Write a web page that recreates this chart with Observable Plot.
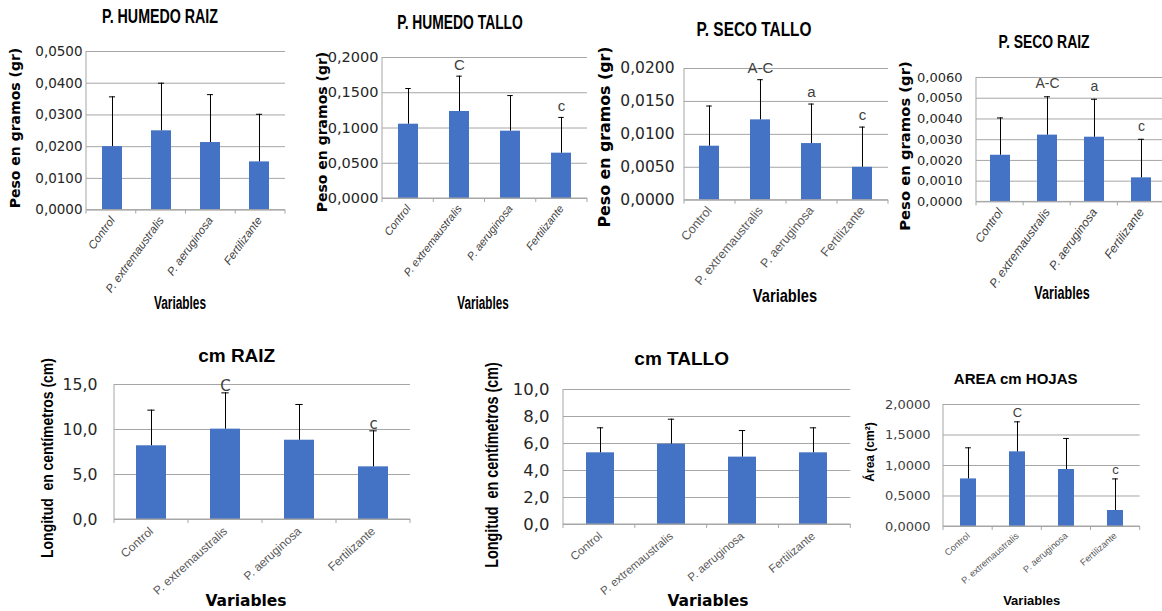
<!DOCTYPE html>
<html>
<head>
<meta charset="utf-8">
<script src="https://cdn.jsdelivr.net/npm/d3@7"></script>
<script src="https://cdn.jsdelivr.net/npm/@observablehq/plot@0.6"></script>
<style>
  html, body { margin: 0; padding: 0; background: #fff; }
  #wrap { position: relative; width: 1162px; height: 611px; overflow: hidden; background: #fff; }
  .lbl { position: absolute; white-space: pre; line-height: 1; color: #000; font-weight: bold; }
</style>
</head>
<body>
<div id="wrap"></div>
<script>
// ---------------- DATA ----------------
const categories = ["Control", "P. extremaustralis", "P. aeruginosa", "Fertilizante"];

// P. HUMEDO RAIZ (g)
const humedoRaizMean = [0.0200, 0.0250, 0.0213, 0.0152];
const humedoRaizSD   = [0.0157, 0.0150, 0.0151, 0.0150];
const humedoRaizTicks = [0, 0.01, 0.02, 0.03, 0.04, 0.05];
const humedoRaizLetters = ["", "", "", ""];

// P. HUMEDO TALLO (g)
const humedoTalloMean = [0.1054, 0.1234, 0.0955, 0.0643];
const humedoTalloSD   = [0.0506, 0.0501, 0.0505, 0.0507];
const humedoTalloTicks = [0, 0.05, 0.10, 0.15, 0.20];
const humedoTalloLetters = ["", "C", "", "c"];

// P. SECO TALLO (g)
const secoTalloMean = [0.0082, 0.0122, 0.0086, 0.0050];
const secoTalloSD   = [0.0061, 0.0061, 0.0060, 0.0061];
const secoTalloTicks = [0, 0.005, 0.010, 0.015, 0.020];
const secoTalloLetters = ["", "A-C", "a", "c"];

// P. SECO RAIZ (g)
const secoRaizMean = [0.00225, 0.00322, 0.00312, 0.00116];
const secoRaizSD   = [0.00180, 0.00185, 0.00183, 0.00186];
const secoRaizTicks = [0, 0.001, 0.002, 0.003, 0.004, 0.005, 0.006];
const secoRaizLetters = ["", "A-C", "a", "c"];

// cm RAIZ
const cmRaizMean = [8.19, 10.04, 8.81, 5.85];
const cmRaizSD   = [3.96, 4.03, 3.97, 4.00];
const cmRaizTicks = [0, 5, 10, 15];
const cmRaizLetters = ["", "C", "", "c"];

// cm TALLO
const cmTalloMean = [5.31, 5.95, 4.99, 5.31];
const cmTalloSD   = [1.85, 1.85, 1.97, 1.85];
const cmTalloTicks = [0, 2, 4, 6, 8, 10];
const cmTalloLetters = ["", "", "", ""];

// AREA cm HOJAS (cm²)
const areaMean = [0.780, 1.224, 0.934, 0.262];
const areaSD   = [0.510, 0.492, 0.509, 0.518];
const areaTicks = [0, 0.5, 1.0, 1.5, 2.0];
const areaLetters = ["", "C", "", "c"];

// ---------------- STYLE / LAYOUT ----------------
const sans = '"Liberation Sans",Arial,sans-serif';
const dejavu = '"DejaVu Sans",Verdana,sans-serif';
const barColor = "#4472C4";
const gridColor = "#a6a6a6";
const tickColor = "#595959";

const wrap = document.getElementById("wrap");

// squeeze < 1 emulates a condensed (Calibri-like) face with real text
function addLabel(text, x, y, size, family, rotate, squeeze) {
  const d = document.createElement("div");
  d.className = "lbl";
  d.textContent = text;
  Object.assign(d.style, {
    left: x + "px", top: y + "px", fontSize: size + "px", fontFamily: family,
    transform: "translate(-50%,-50%)" + (rotate ? " rotate(-90deg)" : "") + (squeeze ? ` scaleX(${squeeze})` : "")
  });
  wrap.appendChild(d);
}

function fmt(dec) { return d => d.toFixed(dec).replace(".", ","); }

function drawChart(L, mean, sd, ticks, letters) {
  const data = categories.map((c, i) => ({c, m: mean[i], u: mean[i] + sd[i], l: letters[i]}));
  const ml = 90, mt = 30, mr = 10, mb = 110;
  const fw = L.right - L.left, fh = L.bottom - L.top;
  const step = fw / categories.length;
  const bw = step * (1 - L.pad);
  const inset = (bw - L.cap) / 2;
  const n = categories.length;
  const frameMark = (index, scales, values, dims) => {
    const g = d3.create("svg:g").attr("stroke", gridColor).attr("stroke-width", 1);
    const x0 = dims.marginLeft, x1 = dims.width - dims.marginRight;
    const y0 = dims.marginTop, y1 = dims.height - dims.marginBottom;
    g.append("line").attr("x1", x0).attr("x2", x0).attr("y1", y0).attr("y2", y1);
    g.append("line").attr("x1", x0).attr("x2", x1).attr("y1", y1).attr("y2", y1);
    for (let i = 0; i <= n; i++) {
      const xx = x0 + i * (x1 - x0) / n;
      g.append("line").attr("x1", xx).attr("x2", xx).attr("y1", y1).attr("y2", y1 + 4);
    }
    return g.node();
  };
  const svg = Plot.plot({
    width: fw + ml + mr,
    height: fh + mt + mb,
    marginLeft: ml, marginTop: mt, marginRight: mr, marginBottom: mb,
    style: {background: "transparent", overflow: "visible", maxWidth: "none", fontFamily: L.tickFamily},
    x: {domain: categories, paddingInner: L.pad, paddingOuter: L.pad / 2, align: 0.5},
    y: {domain: [0, ticks[ticks.length - 1]]},
    marks: [
      Plot.gridY(ticks, {stroke: gridColor, strokeOpacity: 1, strokeWidth: 1}),
      Plot.barY(data, {x: "c", y: "m", fill: barColor}),
      Plot.ruleX(data, {x: "c", y1: "m", y2: "u", stroke: "#000", strokeWidth: 1}),
      Plot.tickY(data, {x: "c", y: "u", stroke: "#000", strokeWidth: 1, insetLeft: inset, insetRight: inset}),
      Plot.text(data.filter(d => d.l), {x: "c", y: "u", text: "l", dy: L.letterDy, fontSize: L.letterSize, fill: "#404040", fontFamily: L.letterFamily}),
      frameMark,
      Plot.axisY(ticks, {tickFormat: fmt(L.dec), tickSize: 0, tickPadding: L.yPad, fontSize: L.yFont, fill: L.yColor, label: null}),
      Plot.axisX({tickRotate: L.xRot, tickSize: 0, tickPadding: L.xPad, fontSize: L.xFont, fontStyle: L.xItalic ? "italic" : "normal", fill: L.xColor || tickColor, fontFamily: L.xFamily, label: null})
    ]
  });
  svg.style.position = "absolute";
  svg.style.left = (L.left - ml) + "px";
  svg.style.top = (L.top - mt) + "px";
  wrap.appendChild(svg);
  addLabel(L.title, L.tx, L.ty, L.tSize, L.tFamily, false, L.tSq);
  addLabel(L.ylab, L.yx, L.yy, L.ySize, L.yFamily, true, L.ySq);
  addLabel("Variables", L.vx, L.vy, L.vSize, L.vFamily, false, L.vSq);
}

const pesoLabel = "Peso en gramos (gr)";
const longLabel = "Longitud  en centímetros (cm)";

drawChart({left: 86, right: 285, top: 50.7, bottom: 209.3, pad: 0.6, cap: 6, dec: 4,
  tickFamily: dejavu, yFont: 13.5, yPad: 4, yColor: "#262626",
  xRot: -54, xPad: 8, xFont: 11.5, xItalic: true, xFamily: sans, xColor: "#404040",
  letterDy: -10, letterSize: 14, letterFamily: sans,
  title: "P. HUMEDO RAIZ", tx: 160, ty: 17, tSize: 19.5, tFamily: sans, tSq: 0.73,
  ylab: pesoLabel, yx: 15, yy: 128, ySize: 14, yFamily: dejavu,
  vx: 180, vy: 303, vSize: 18, vFamily: sans, vSq: 0.66},
  humedoRaizMean, humedoRaizSD, humedoRaizTicks, humedoRaizLetters);

drawChart({left: 381.7, right: 586.7, top: 56.7, bottom: 197.7, pad: 0.6, cap: 6, dec: 4,
  tickFamily: dejavu, yFont: 14.5, yPad: 4, yColor: "#262626",
  xRot: -52, xPad: 8, xFont: 11, xItalic: true, xFamily: sans, xColor: "#404040",
  letterDy: -11, letterSize: 15, letterFamily: sans,
  title: "P. HUMEDO TALLO", tx: 460, ty: 22.7, tSize: 19.5, tFamily: sans, tSq: 0.71,
  ylab: pesoLabel, yx: 321.7, yy: 131.7, ySize: 14, yFamily: dejavu,
  vx: 483, vy: 303, vSize: 18, vFamily: sans, vSq: 0.65},
  humedoTalloMean, humedoTalloSD, humedoTalloTicks, humedoTalloLetters);

drawChart({left: 684, right: 888, top: 68.3, bottom: 200, pad: 0.6, cap: 6, dec: 4,
  tickFamily: dejavu, yFont: 15.5, yPad: 10, yColor: "#262626",
  xRot: -50, xPad: 8, xFont: 12.5, xItalic: false, xFamily: sans,
  letterDy: -12, letterSize: 15, letterFamily: sans,
  title: "P. SECO TALLO", tx: 753.7, ty: 30, tSize: 19.5, tFamily: sans, tSq: 0.79,
  ylab: pesoLabel, yx: 605, yy: 136.7, ySize: 15.8, yFamily: dejavu,
  vx: 785, vy: 295, vSize: 19, vFamily: sans, vSq: 0.77},
  secoTalloMean, secoTalloSD, secoTalloTicks, secoTalloLetters);

drawChart({left: 976, right: 1164.5, top: 77.3, bottom: 201.7, pad: 0.575, cap: 6, dec: 4,
  tickFamily: dejavu, yFont: 13, yPad: 14, yColor: "#262626",
  xRot: -54, xPad: 8, xFont: 12, xItalic: true, xFamily: sans, xColor: "#404040",
  letterDy: -13, letterSize: 14, letterFamily: sans,
  title: "P. SECO RAIZ", tx: 1044, ty: 41.7, tSize: 18.6, tFamily: sans, tSq: 0.75,
  ylab: pesoLabel, yx: 905, yy: 145.8, ySize: 14.8, yFamily: dejavu,
  vx: 1062, vy: 293, vSize: 18.5, vFamily: sans, vSq: 0.68},
  secoRaizMean, secoRaizSD, secoRaizTicks, secoRaizLetters);

drawChart({left: 114, right: 410, top: 384.3, bottom: 519.3, pad: 0.6, cap: 7, dec: 1,
  tickFamily: dejavu, yFont: 15.7, yPad: 17, yColor: "#262626",
  xRot: -42, xPad: 10, xFont: 12, xItalic: false, xFamily: sans,
  letterDy: -7, letterSize: 15, letterFamily: dejavu,
  title: "cm RAIZ", tx: 236.7, ty: 355, tSize: 19, tFamily: sans,
  ylab: longLabel, yx: 46.7, yy: 458.3, ySize: 17, yFamily: sans, ySq: 0.82,
  vx: 246, vy: 601.7, vSize: 15.5, vFamily: dejavu},
  cmRaizMean, cmRaizSD, cmRaizTicks, cmRaizLetters);

drawChart({left: 562.7, right: 850, top: 389.3, bottom: 524.3, pad: 0.6, cap: 7, dec: 1,
  tickFamily: dejavu, yFont: 16.5, yPad: 14, yColor: "#262626",
  xRot: -40, xPad: 10, xFont: 11.5, xItalic: false, xFamily: sans,
  letterDy: -8, letterSize: 15, letterFamily: dejavu,
  title: "cm TALLO", tx: 681.7, ty: 358, tSize: 19, tFamily: sans,
  ylab: longLabel, yx: 493, yy: 465, ySize: 17.5, yFamily: sans, ySq: 0.82,
  vx: 708, vy: 601.7, vSize: 15.5, vFamily: dejavu},
  cmTalloMean, cmTalloSD, cmTalloTicks, cmTalloLetters);

drawChart({left: 943.3, right: 1140, top: 404, bottom: 526, pad: 0.67, cap: 6, dec: 4,
  tickFamily: dejavu, yFont: 13, yPad: 13, yColor: "#404040",
  xRot: -41, xPad: 8, xFont: 9.2, xItalic: false, xFamily: sans,
  letterDy: -9, letterSize: 13, letterFamily: sans,
  title: "AREA cm HOJAS", tx: 1015.7, ty: 378, tSize: 15, tFamily: sans,
  ylab: "Área (cm²)", yx: 870, yy: 451.7, ySize: 12, yFamily: sans,
  vx: 1031.7, vy: 600, vSize: 13, vFamily: sans},
  areaMean, areaSD, areaTicks, areaLetters);
</script>
</body>
</html>
